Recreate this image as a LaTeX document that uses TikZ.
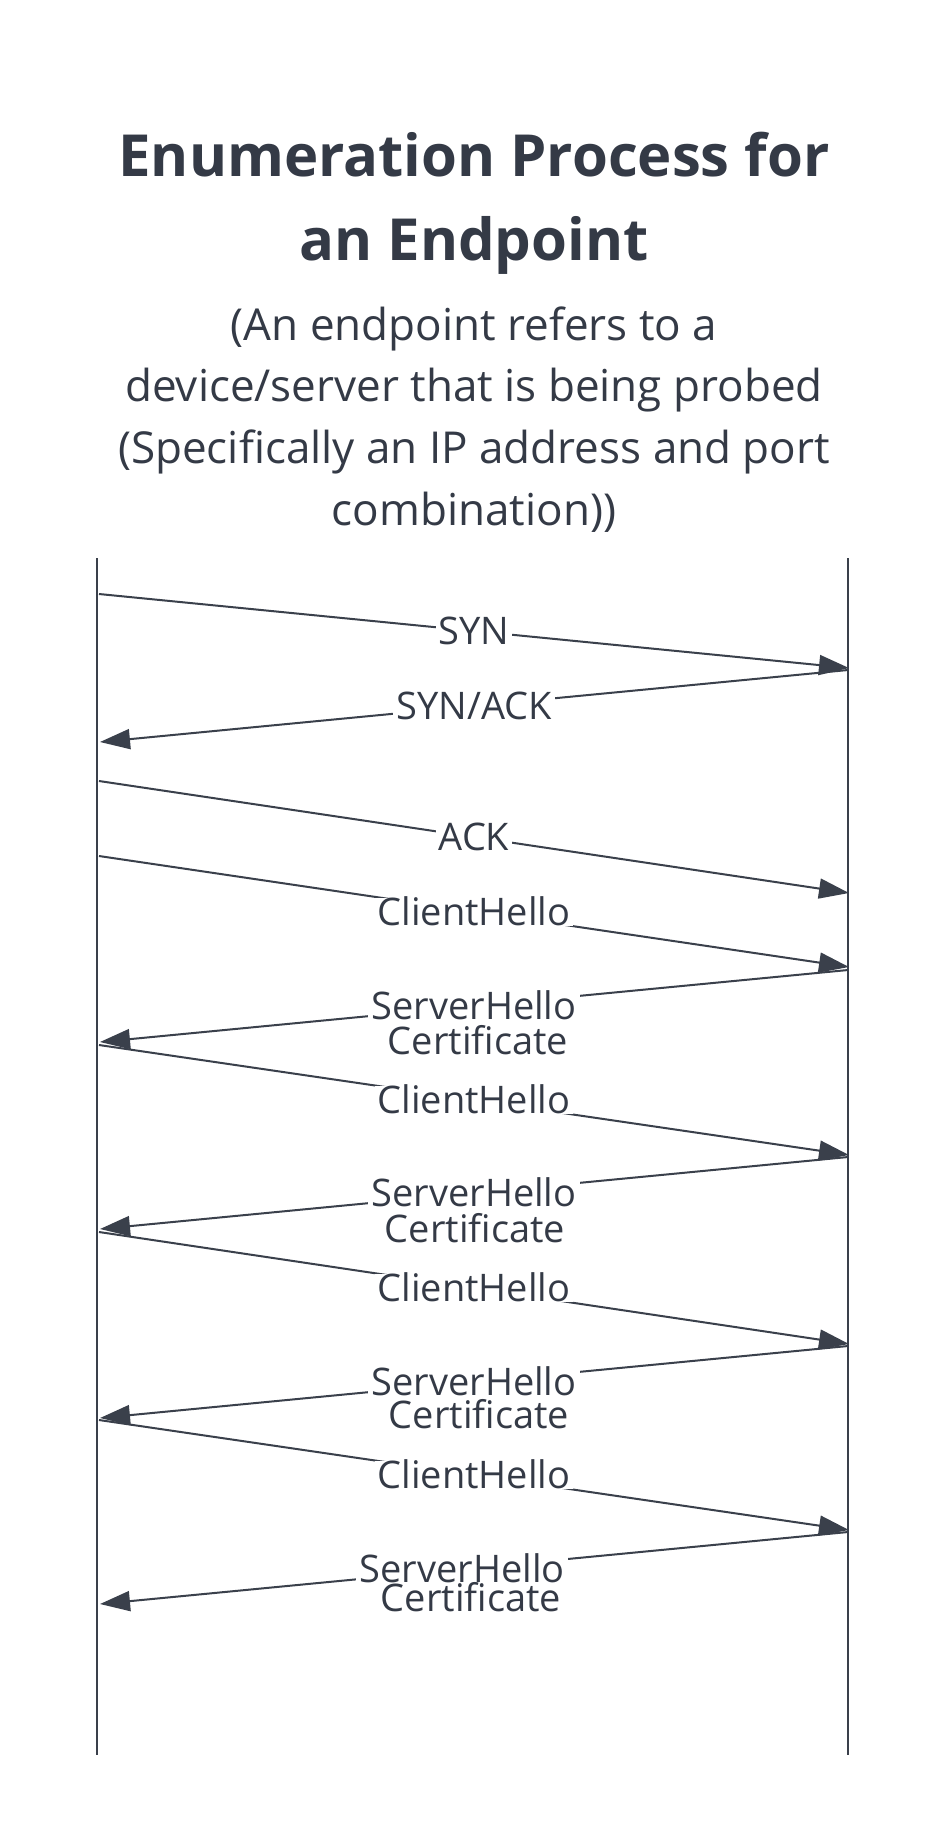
\documentclass[tikz,border=0pt]{standalone}
\usepackage{fontspec}
\setmainfont{Open Sans}
\usetikzlibrary{arrows.meta}
\definecolor{ink}{HTML}{343A46}
\definecolor{wire}{HTML}{3A404B}
\tikzset{
  ttl/.style={font=\fontsize{58}{58}\selectfont\bfseries, text=ink, anchor=base, inner sep=0pt},
  subt/.style={font=\fontsize{44}{44}\selectfont, text=ink, anchor=base, inner sep=0pt},
  msg/.style={draw=wire, line width=2pt, -{Triangle[length=30pt,width=20pt]}},
  lbl/.style={font=\fontsize{38}{38}\selectfont, text=ink, fill=white, inner xsep=3pt, inner ysep=0.5pt, text height=27pt, text depth=0pt},
  lbl2/.style={font=\fontsize{38}{38}\selectfont, text=ink, inner sep=0.5pt, text height=27pt, text depth=0pt},
  life/.style={draw=wire, line width=1.6pt}
}
\begin{document}
\begin{tikzpicture}[x=1pt,y=-1pt]
\useasboundingbox (0,0) rectangle (947,1832);
\fill[white] (0,0) rectangle (947,1832);
% title
\node[ttl] (t1) at (474,176) {Enumeration Process for};
\node[ttl] (t2) at (474,260) {an Endpoint};
\node[subt] (s1) at (474,340) {(An endpoint refers to a};
\node[subt] (s2) at (474,401) {device/server that is being probed};
\node[subt] (s3) at (474,463) {(Specifically an IP address and port};
\node[subt] (s4) at (474,525) {combination))};
% lifelines
\coordinate (Ltop) at (97,558);
\coordinate (Lbot) at (97,1755);
\coordinate (Rtop) at (848,558);
\coordinate (Rbot) at (848,1755);
\draw[life] (Ltop) -- (Lbot);
\draw[life] (Rtop) -- (Rbot);
% message end points
\coordinate (a1) at (99,594);   \coordinate (b1) at (849,668);
\coordinate (a2) at (848,670);  \coordinate (b2) at (100,742);
\coordinate (a3) at (99,781);   \coordinate (b3) at (849,893);
\coordinate (a4) at (99,856);   \coordinate (b4) at (849,967);
\coordinate (a5) at (848,970);  \coordinate (b5) at (100,1042);
\coordinate (a6) at (99,1045);  \coordinate (b6) at (849,1155);
\coordinate (a7) at (848,1157); \coordinate (b7) at (100,1229);
\coordinate (a8) at (99,1232);  \coordinate (b8) at (849,1344);
\coordinate (a9) at (848,1346); \coordinate (b9) at (100,1418);
\coordinate (a10) at (99,1420); \coordinate (b10) at (849,1530);
\coordinate (a11) at (848,1532);\coordinate (b11) at (100,1604);
% messages
\draw[msg] (a1) -- node[lbl] (m1) {SYN} (b1);
\draw[msg] (a2) -- node[lbl] (m2) {SYN/ACK} (b2);
\draw[msg] (a3) -- node[lbl] (m3) {ACK} (b3);
\draw[msg] (a4) -- node[lbl] (m4) {ClientHello} (b4);
\draw[msg] (a5) -- node[lbl] (m5) {ServerHello} (b5);
\node[lbl2, xshift=4pt, yshift=-35pt] (c5) at (m5) {Certificate};
\draw[msg] (a6) -- node[lbl] (m6) {ClientHello} (b6);
\draw[msg] (a7) -- node[lbl] (m7) {ServerHello} (b7);
\node[lbl2, xshift=1pt, yshift=-36pt] (c7) at (m7) {Certificate};
\draw[msg] (a8) -- node[lbl] (m8) {ClientHello} (b8);
\draw[msg] (a9) -- node[lbl] (m9) {ServerHello} (b9);
\node[lbl2, xshift=5pt, yshift=-33pt] (c9) at (m9) {Certificate};
\draw[msg] (a10) -- node[lbl] (m10) {ClientHello} (b10);
\draw[msg] (a11) -- node[lbl, pos=0.516] (m11) {ServerHello} (b11);
\node[lbl2, xshift=9pt, yshift=-29pt] (c11) at (m11) {Certificate};
\end{tikzpicture}
\end{document}
